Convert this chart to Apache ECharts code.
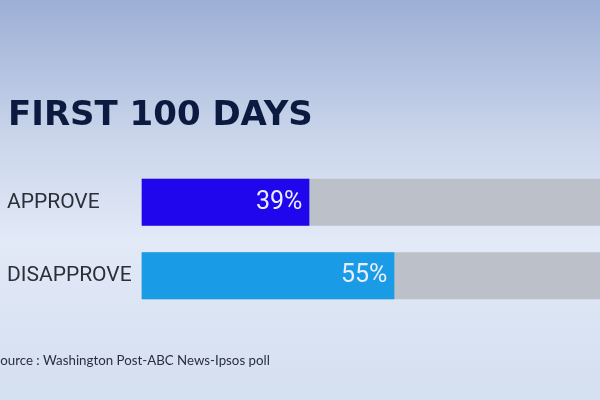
<!DOCTYPE html>
<html>

<head>
    <meta charset="UTF-8">
    <title>First 100 days</title>
    <script src="https://cdn.jsdelivr.net/npm/echarts@6/dist/echarts.min.js"></script>
    <style>
        html, body { margin: 0; padding: 0; }
    </style>
</head>

<body>
    <div id="bar" style="width: 600px; height: 400px;"></div>
    <script>
        var categories = ['APPROVE', 'DISAPPROVE'];
        var values = [39, 55];
        var barColors = ['#2006ec', '#1a9be6'];

        var chart = echarts.init(document.getElementById('bar'), null, { renderer: 'canvas' });

        var option = {
            backgroundColor: new echarts.graphic.LinearGradient(0, 0, 0, 1, [
                { offset: 0, color: '#9cafd6' },
                { offset: 0.35, color: '#cbd6eb' },
                { offset: 0.6, color: '#e2e9f7' },
                { offset: 1, color: '#d4dff0' }
            ]),
            grid: { left: 141.7, right: 0, top: 165.6, height: 147 },
            xAxis: {
                type: 'value',
                min: 7.45,
                max: 93.7,
                show: false
            },
            yAxis: {
                type: 'category',
                data: categories,
                inverse: true,
                axisLine: { show: false },
                axisTick: { show: false },
                axisLabel: {
                    align: 'left',
                    margin: 134.7,
                    color: '#2b3038',
                    fontFamily: 'Roboto',
                    fontSize: 21
                }
            },
            series: [{
                type: 'bar',
                barWidth: 47,
                data: values.map(function (v, i) {
                    return { value: v, itemStyle: { color: barColors[i] } };
                }),
                showBackground: true,
                backgroundStyle: { color: '#bcc0c8' },
                label: {
                    show: true,
                    position: 'insideRight',
                    distance: 7,
                    color: '#e8eefb',
                    fontFamily: 'Roboto',
                    fontSize: 25,
                    formatter: '{c}%'
                },
                silent: true,
                animation: false
            }],
            graphic: [
                {
                    type: 'text',
                    left: 8,
                    top: 99,
                    style: {
                        text: 'FIRST 100 DAYS',
                        fill: '#0d1a40',
                        font: 'bold 34px "DejaVu Sans"'
                    }
                },
                {
                    type: 'text',
                    left: -7,
                    top: 354,
                    style: {
                        text: 'Source : Washington Post-ABC News-Ipsos poll',
                        fill: '#2a2f3a',
                        font: '13.3px Lato'
                    }
                }
            ]
        };

        chart.setOption(option);
    </script>

</body>

</html>
